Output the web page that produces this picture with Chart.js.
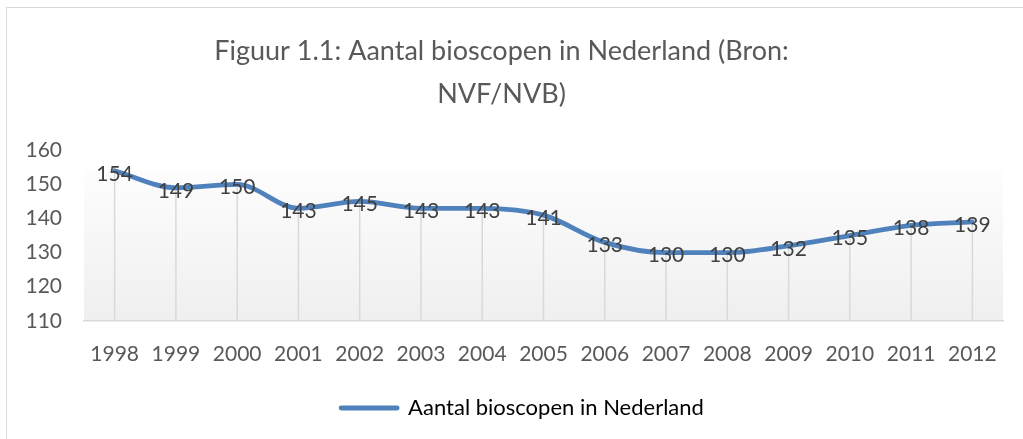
<!DOCTYPE html>
<html>
<head>
<meta charset="utf-8">
<script src="https://cdn.jsdelivr.net/npm/chart.js@4.4.1/dist/chart.umd.min.js"></script>
<style>
  html, body { margin: 0; padding: 0; background: #fff; }
  #wrap { position: relative; width: 1023px; height: 439px; overflow: hidden; }
  #frame { position: absolute; left: 6px; top: 7px; width: 1100px; height: 500px; border: 1px solid #d9d9d9; box-sizing: border-box; }
  canvas { position: absolute; left: 0; top: 0; }
</style>
</head>
<body>
<div id="wrap">
  <div id="frame"></div>
  <canvas id="c" width="1023" height="439"></canvas>
</div>
<script>
const titleLines = ['Figuur 1.1: Aantal bioscopen in Nederland (Bron:', 'NVF/NVB)'];
const seriesName = 'Aantal bioscopen in Nederland';
const years = ['1998','1999','2000','2001','2002','2003','2004','2005','2006','2007','2008','2009','2010','2011','2012'];
const cinemas = [154,149,150,143,145,143,143,141,133,130,130,132,135,138,139];
const yTicks = [110,120,130,140,150,160];

const FONT = 'Lato, "Open Sans", sans-serif';
const TEXT = '#595959';
const LINE = '#4F81BD';
const LEGEND_SHIFT = 21;

const bgPlugin = {
  id: 'plotBg',
  beforeDraw(chart) {
    const {ctx, chartArea: a} = chart;
    const g = ctx.createLinearGradient(0, a.top, 0, a.bottom);
    g.addColorStop(0, '#ffffff');
    g.addColorStop(1, '#efefef');
    ctx.save();
    ctx.fillStyle = g;
    ctx.fillRect(a.left, a.top + 20, a.right - a.left, a.bottom - a.top - 20);
    ctx.restore();
  }
};

const dropPlugin = {
  id: 'dropLines',
  beforeDatasetsDraw(chart) {
    const {ctx, scales: {x, y}} = chart;
    ctx.save();
    ctx.strokeStyle = '#d9d9d9';
    ctx.lineWidth = 1.5;
    chart.data.datasets[0].data.forEach((v, i) => {
      const px = x.getPixelForValue(i);
      ctx.beginPath();
      ctx.moveTo(px, y.getPixelForValue(v));
      ctx.lineTo(px, y.bottom);
      ctx.stroke();
    });
    ctx.restore();
  }
};

const labelPlugin = {
  id: 'valueLabels',
  afterDatasetsDraw(chart) {
    const {ctx} = chart;
    const meta = chart.getDatasetMeta(0);
    ctx.save();
    ctx.font = '21px ' + FONT;
    ctx.fillStyle = '#404040';
    ctx.textAlign = 'center';
    ctx.textBaseline = 'middle';
    meta.data.forEach((pt, i) => {
      ctx.fillText(String(chart.data.datasets[0].data[i]), pt.x, pt.y + 3);
    });
    ctx.restore();
  }
};

const chart = new Chart(document.getElementById('c'), {
  type: 'line',
  data: {
    labels: years,
    datasets: [{
      label: seriesName,
      data: cinemas,
      borderColor: LINE,
      backgroundColor: LINE,
      borderWidth: 4.8,
      borderCapStyle: 'round',
      borderJoinStyle: 'round',
      tension: 0.3,
      cubicInterpolationMode: 'monotone',
      pointRadius: 0,
      pointHoverRadius: 0,
      fill: false
    }]
  },
  options: {
    responsive: false,
    animation: false,
    events: [],
    layout: { padding: { left: 0, right: 20, top: 30, bottom: 10 } },
    plugins: {
      title: {
        display: true,
        text: titleLines,
        color: TEXT,
        font: { family: FONT, size: 27, weight: 'normal', lineHeight: 1.58 },
        padding: { top: 0, bottom: 35 }
      },
      legend: {
        display: true,
        position: 'bottom',
        labels: {
          color: TEXT,
          font: { family: FONT, size: 22 },
          usePointStyle: true,
          pointStyle: 'line',
          pointStyleWidth: 56,
          boxHeight: 4,
          padding: 9,
          generateLabels(chart) {
            return [{
              text: seriesName,
              fillStyle: LINE,
              strokeStyle: LINE,
              lineWidth: 4.8,
              lineCap: 'round',
              pointStyle: 'line',
              datasetIndex: 0
            }];
          }
        }
      },
      tooltip: { enabled: false }
    },
    scales: {
      x: {
        offset: true,
        grid: { display: false, drawTicks: false },
        border: { display: true, color: '#d9d9d9', width: 1.5 },
        ticks: { color: TEXT, font: { family: FONT, size: 21 }, padding: 21, maxRotation: 0, autoSkip: false }
      },
      y: {
        min: 110,
        max: 160,
        afterBuildTicks(scale) { scale.ticks = yTicks.map(v => ({ value: v })); },
        afterFit(scale) { scale.width = 84; },
        grid: { display: false, drawTicks: false },
        border: { display: false },
        ticks: { color: TEXT, font: { family: FONT, size: 21 }, padding: 22 }
      }
    }
  },
  plugins: [bgPlugin, dropPlugin, labelPlugin]
});

// nudge the legend block to the right, as in the reference, then redraw
const lg = chart.legend || chart.boxes.find(b => b.legendItems);
if (lg) {
  const origDraw = lg.draw.bind(lg);
  lg.draw = function () {
    const ctx = this.ctx;
    ctx.save();
    ctx.translate(LEGEND_SHIFT, 0);
    origDraw();
    ctx.restore();
  };
  chart.draw();
}
</script>
</body>
</html>
